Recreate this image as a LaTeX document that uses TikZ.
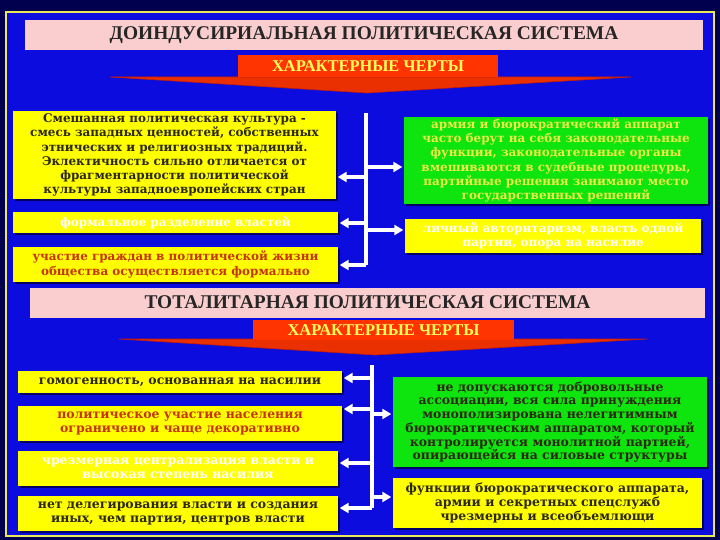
\documentclass[tikz,border=0pt]{standalone}
\usepackage{fontspec}
\setmainfont{Liberation Serif}
\newfontfamily\boxfont{DejaVu Serif}
\usepackage{tikz}
\usetikzlibrary{arrows.meta,shadows}
\definecolor{navyOut}{RGB}{0,0,78}
\definecolor{blueMid}{RGB}{0,0,140}
\definecolor{blueIn}{RGB}{12,12,222}
\definecolor{frameYel}{RGB}{232,232,90}
\definecolor{pinkT}{RGB}{250,206,206}
\definecolor{redB}{RGB}{255,52,0}
\definecolor{redEdge}{RGB}{190,30,10}
\definecolor{yelBox}{RGB}{255,255,0}
\definecolor{grnBox}{RGB}{14,228,14}
\definecolor{txtDark}{RGB}{44,40,18}
\definecolor{txtRed}{RGB}{196,52,8}
\definecolor{txtYel}{RGB}{236,236,70}
\definecolor{txtBan}{RGB}{255,255,90}
\pgfdeclareradialshading{vignette}{\pgfpoint{0bp}{0bp}}{%
  color(0bp)=(blueIn); color(36bp)=(blueIn); color(50bp)=(blueMid); color(72bp)=(navyOut)}
\tikzset{
  ptitle/.style={rectangle, fill=pinkT, inner sep=0pt, text=black!85,
                 font=\bfseries\fontsize{19.5}{23}\selectfont},
  banner/.style={rectangle, fill=redB, inner sep=0pt, text=txtBan,
                 font=\bfseries\fontsize{16.5}{19}\selectfont},
  tri/.style={fill=redB!92!black, draw=redEdge, line width=0.6bp},
  ybox/.style={rectangle, fill=yelBox, inner sep=0pt, align=center,
               font=\boxfont\bfseries\fontsize{12}{14.2}\selectfont,
               drop shadow={shadow xshift=2bp, shadow yshift=-2bp,
                            fill=navyOut, opacity=0.85}},
  gbox/.style={ybox, fill=grnBox},
  bbox/.style={ybox, font=\boxfont\bfseries\fontsize{12.5}{13.8}\selectfont},
  bgbox/.style={bbox, fill=grnBox},
  bus/.style={draw=white, line width=3.5bp},
  arr/.style={draw=white, line width=3.5bp, shorten >=1.5bp,
              -{Triangle[length=9bp,width=10bp]}},
}
\begin{document}
\begin{tikzpicture}[x=1bp,y=-1bp]
  \useasboundingbox (0,0) rectangle (720,540);
  \fill[navyOut] (0,0) rectangle (720,540);
  \shade[shading=vignette] (6,12) rectangle (714,536);
  \draw[frameYel, line width=2bp] (6,12) rectangle (714,536);

  % pre-industrial system
  \node[ptitle, minimum width=678bp, minimum height=30bp] (preSys) at (364,35)
    {ДОИНДУСИРИАЛЬНАЯ ПОЛИТИЧЕСКАЯ СИСТЕМА};
  \fill[tri] (110,77) -- (631,77) -- (367,93) -- cycle;
  \node[banner, minimum width=260bp, minimum height=22bp] (preFeat) at (368,66)
    {ХАРАКТЕРНЫЕ ЧЕРТЫ};

  \node[ybox, minimum width=323bp, minimum height=88bp, text=txtDark] (preL1) at (174.5,155)
    {Смешанная политическая культура -\\смесь западных ценностей, собственных\\этнических и религиозных традиций.\\Эклектичность сильно отличается от\\фрагментарности политической\\культуры западноевропейских стран};
  \node[ybox, minimum width=325bp, minimum height=21bp, text=white] (preL2) at (175.5,222.5)
    {формальное разделение властей};
  \node[ybox, minimum width=325bp, minimum height=35bp, text=txtRed] (preL3) at (175.5,264.5)
    {участие граждан в политической жизни\\общества осуществляется формально};
  \node[gbox, minimum width=304bp, minimum height=87bp, text=txtYel] (preR1) at (556,160.5)
    {армия и бюрократический аппарат\\часто берут на себя законодательные\\функции, законодательные органы\\вмешиваются в судебные процедуры,\\партийные решения занимают место\\государственных решений};
  \node[ybox, minimum width=296bp, minimum height=34bp, text=white] (preR2) at (553,236)
    {личный авторитаризм, власть одной\\партии, опора на насилие};

  \coordinate (preTop) at (366,113);
  \coordinate (preBot) at (366,265);
  \coordinate (preA1) at (366,177);
  \coordinate (preA2) at (366,223);
  \coordinate (preA3) at (366,265);
  \coordinate (preB1) at (366,167);
  \coordinate (preB2) at (366,230);
  \draw[bus] (preTop) -- (preBot);
  \foreach \c/\b in {preA1/preL1, preA2/preL2, preA3/preL3}
    \draw[arr] (\c) -- (\c -| \b.east);
  \foreach \c/\b in {preB1/preR1, preB2/preR2}
    \draw[arr] (\c) -- (\c -| \b.west);

  % totalitarian system
  \node[ptitle, minimum width=675bp, minimum height=30bp] (totSys) at (367.5,302.5)
    {ТОТАЛИТАРНАЯ ПОЛИТИЧЕСКАЯ СИСТЕМА};
  \fill[tri] (119,339) -- (647,339) -- (375,355) -- cycle;
  \node[banner, minimum width=261bp, minimum height=20bp] (totFeat) at (383.5,330)
    {ХАРАКТЕРНЫЕ ЧЕРТЫ};

  \node[bbox, minimum width=324bp, minimum height=22bp, text=txtDark] (totL1) at (180,382)
    {гомогенность, основанная на насилии};
  \node[bbox, minimum width=324bp, minimum height=35bp, text=txtRed] (totL2) at (180,423.5)
    {политическое участие населения\\ограничено и чаще декоративно};
  \node[bbox, minimum width=320bp, minimum height=35bp, text=white] (totL3) at (178,468.5)
    {чрезмерная централизация власти и\\высокая степень насилия};
  \node[bbox, minimum width=320bp, minimum height=35bp, text=txtDark] (totL4) at (178,513.5)
    {нет делегирования власти и создания\\иных, чем партия, центров власти};
  \node[bgbox, minimum width=314bp, minimum height=90bp, text=txtDark] (totR1) at (550,422)
    {не допускаются добровольные\\ассоциации, вся сила принуждения\\монополизирована нелегитимным\\бюрократическим аппаратом, который\\контролируется монолитной партией,\\опирающейся на силовые структуры};
  \node[bbox, minimum width=309bp, minimum height=50bp, text=txtDark] (totR2) at (547.5,503)
    {функции бюрократического аппарата,\\армии и секретных спецслужб\\чрезмерны и всеобъемлющи};

  \coordinate (totTop) at (372,365);
  \coordinate (totBot) at (372,508);
  \coordinate (totA1) at (372,378);
  \coordinate (totA2) at (372,409);
  \coordinate (totA3) at (372,463);
  \coordinate (totA4) at (372,508);
  \coordinate (totB1) at (372,414);
  \coordinate (totB2) at (372,497);
  \draw[bus] (totTop) -- (totBot);
  \foreach \c/\b in {totA1/totL1, totA2/totL2, totA3/totL3, totA4/totL4}
    \draw[arr] (\c) -- (\c -| \b.east);
  \foreach \c/\b in {totB1/totR1, totB2/totR2}
    \draw[arr] (\c) -- (\c -| \b.west);
\end{tikzpicture}
\end{document}
